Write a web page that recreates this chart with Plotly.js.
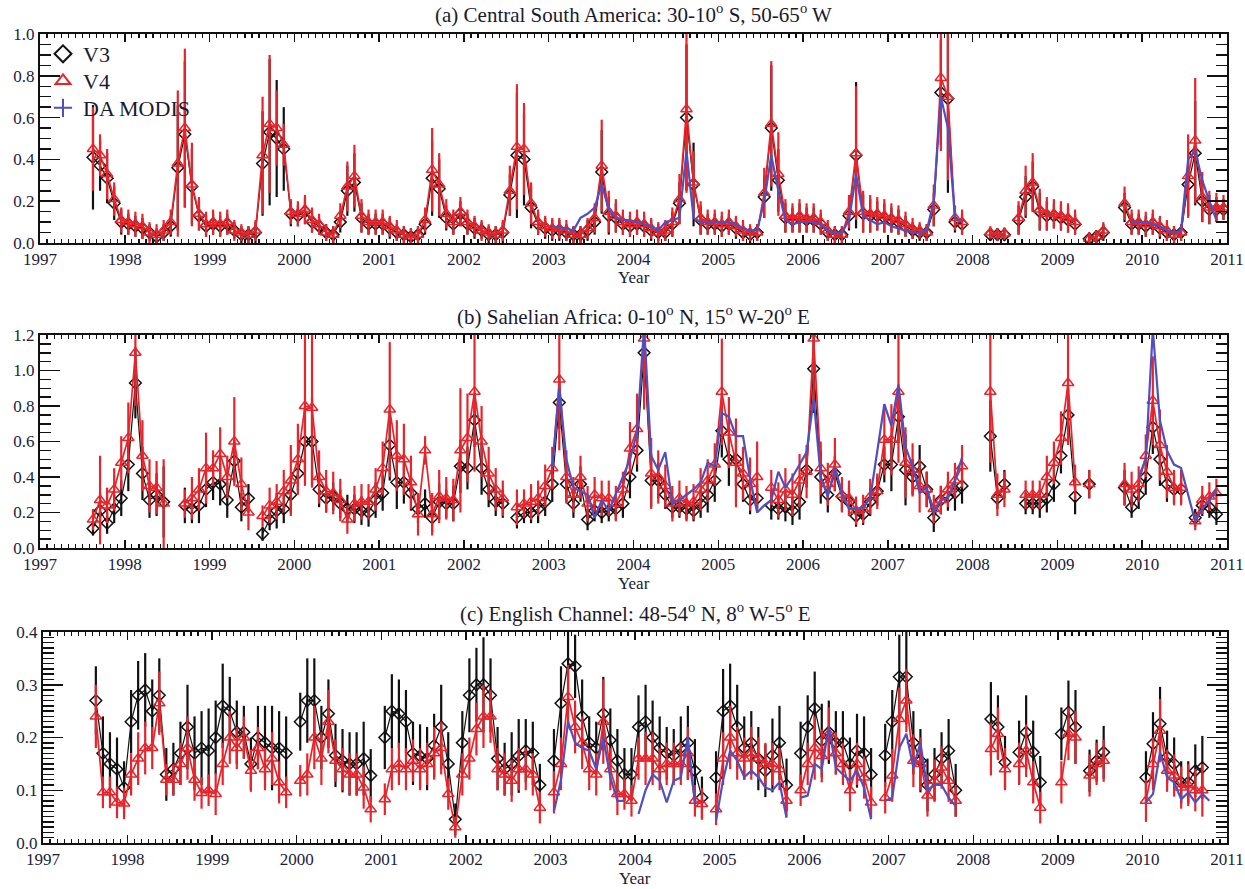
<!DOCTYPE html>
<html>
<head>
<meta charset="utf-8">
<script src="https://cdn.plot.ly/plotly-3.0.1.min.js"></script>
<style>
  html, body { margin: 0; padding: 0; background: #ffffff; }
  #chart { width: 1245px; height: 889px; }
</style>
</head>
<body>
<div id="chart"></div>
<script>
// ---------------- DATA (monthly, V3/V4 from Aug 1997 to Dec 2010; MODIS from Jan 2003) ----------------
const seriesStart = { year: 1997, month: 8 };
const modisStart = { year: 2003, month: 1 };
const yearTicks = [1997, 1998, 1999, 2000, 2001, 2002, 2003, 2004, 2005, 2006, 2007, 2008, 2009, 2010, 2011];

// (a) Central South America
const aV4 = [
  .45,.42,.33,.21,.11,
  .10,.09,.08,.05,.04,.06,.10,.38,.55,.28,.14,.09,
  .10,.09,.10,.06,.05,.04,.06,.42,.57,.55,.47,.15,
  .14,.16,.11,.09,.05,.04,.13,.27,.32,.13,.10,.10,
  .10,.08,.06,.04,.03,.04,.11,.35,.28,.14,.10,.15,
  .10,.08,.06,.05,.04,.06,.25,.46,.45,.19,.10,.08,
  .07,.07,.06,.04,.04,.07,.12,.37,.15,.13,.10,.09,
  .10,.09,.07,.05,.06,.10,.21,.64,.29,.12,.10,.10,
  .09,.10,.08,.06,.05,.05,.24,.57,.33,.13,.12,.13,
  .12,.12,.10,.06,.04,.04,.15,.43,.15,.14,.14,.13,
  .12,.11,.09,.07,.06,.05,.18,.79,.70,.12,.10,null,
  null,null,.05,.04,.045,null,.12,.25,.29,.16,.14,.14,
  .13,.12,.10,null,.02,.03,.06,null,null,.19,.10,.10,
  .09,.10,.08,.06,.04,.05,.32,.49,.22,.17,.17,.17
];
const aV4err = [
  .20,.10,.12,.08,.06,
  .06,.06,.06,.05,.05,.05,.06,.35,.38,.20,.08,.06,
  .06,.06,.06,.05,.04,.04,.05,.28,.33,.18,.10,.06,
  .06,.07,.06,.05,.04,.04,.06,.12,.15,.08,.06,.06,
  .06,.05,.05,.04,.04,.04,.06,.20,.15,.07,.06,.07,
  .06,.05,.05,.04,.04,.05,.12,.30,.22,.10,.06,.05,
  .05,.05,.05,.04,.04,.05,.07,.22,.10,.08,.06,.06,
  .06,.06,.05,.05,.05,.07,.12,.40,.15,.08,.06,.06,
  .06,.06,.05,.05,.04,.04,.12,.30,.20,.08,.07,.08,
  .07,.07,.06,.05,.04,.04,.08,.32,.10,.09,.08,.08,
  .07,.07,.06,.05,.04,.04,.10,.35,.40,.06,.06,null,
  null,null,.03,.03,.03,null,.08,.12,.14,.10,.08,.07,
  .07,.07,.06,null,.03,.03,.04,null,null,.08,.06,.06,
  .06,.06,.05,.05,.04,.04,.20,.30,.12,.08,.07,.06
];
const aV3 = [
  .41,.37,.31,.19,.10,
  .09,.08,.07,.05,.03,.05,.08,.36,.52,.27,.13,.08,
  .09,.08,.09,.06,.04,.04,.05,.38,.53,.50,.45,.14,
  .13,.15,.10,.08,.05,.04,.10,.25,.29,.12,.09,.09,
  .09,.07,.05,.04,.03,.04,.09,.31,.26,.12,.09,.14,
  .09,.07,.06,.04,.04,.05,.23,.42,.40,.17,.09,.07,
  .06,.06,.05,.04,.04,.06,.10,.34,.13,.12,.09,.08,
  .09,.08,.06,.05,.05,.09,.19,.60,.28,.11,.09,.09,
  .08,.09,.07,.05,.04,.05,.22,.55,.30,.12,.11,.12,
  .11,.11,.09,.05,.04,.04,.13,.42,.14,.13,.13,.12,
  .11,.10,.08,.06,.05,.05,.16,.72,.69,.10,.09,null,
  null,null,.04,.04,.04,null,.11,.22,.27,.15,.13,.13,
  .12,.11,.09,null,.02,.03,.05,null,null,.17,.09,.09,
  .08,.09,.07,.05,.04,.05,.28,.43,.20,.16,.16,.16
];
const aV3err = [
  .25,.12,.12,.08,.06,
  .05,.05,.05,.04,.04,.04,.05,.30,.35,.18,.07,.05,
  .05,.05,.05,.04,.04,.04,.05,.25,.35,.28,.20,.06,
  .05,.06,.05,.04,.04,.04,.05,.12,.14,.07,.05,.05,
  .05,.05,.04,.04,.04,.04,.05,.18,.14,.06,.05,.06,
  .05,.05,.04,.04,.04,.05,.10,.30,.22,.10,.05,.05,
  .05,.05,.04,.04,.04,.05,.06,.20,.09,.07,.05,.05,
  .05,.05,.05,.04,.04,.06,.10,.35,.20,.07,.05,.05,
  .05,.05,.05,.04,.04,.04,.10,.30,.15,.07,.06,.07,
  .06,.06,.05,.04,.04,.04,.07,.35,.09,.08,.07,.07,
  .06,.06,.05,.04,.04,.04,.08,.25,.45,.05,.05,null,
  null,null,.03,.03,.03,null,.07,.10,.12,.09,.07,.06,
  .06,.06,.05,null,.03,.03,.04,null,null,.07,.05,.05,
  .05,.05,.05,.04,.04,.04,.15,.25,.10,.07,.06,.05
];
const aMODIS = [
  .08,.075,.07,.06,.12,.14,.17,.28,.16,.12,.11,.11,
  .10,.09,.08,.06,.10,.11,.12,.44,.12,.10,.10,.10,
  .10,.10,.09,.07,.06,.06,.20,.42,.25,.11,.09,.10,
  .10,.10,.09,.06,.05,.05,.11,.33,.13,.11,.09,.10,
  .08,.07,.06,.05,.05,.06,.20,.70,.55,.12,.10,null,
  null,null,null,null,null,null,null,null,null,null,null,null,
  null,null,null,null,null,null,null,null,null,null,.10,.10,
  .10,.09,.08,.06,.05,.06,.40,.44,.30,.20,.11,null
];

// (b) Sahelian Africa
const bV4 = [
  .16,.27,.24,.33,.48,
  .62,1.10,.52,.35,.34,.25,null,null,.25,.28,.33,.45,
  .45,.53,.40,.60,.36,.20,null,.18,.24,.26,.32,.38,
  .50,.80,.79,.40,.32,.31,.27,.16,.25,.26,.26,.33,
  .45,.78,.52,.50,.37,.19,.55,.19,.29,.28,.27,.55,
  .62,.88,.60,.42,.33,.28,null,.23,.25,.26,.28,.35,
  .45,.95,.40,.30,.40,.25,.30,.28,.28,.25,.33,.56,
  .67,1.18,.42,.40,.35,.25,.28,.25,.26,.33,.38,.47,
  .88,.65,.48,.42,.36,.40,null,.34,.27,.33,.30,.38,
  .43,1.18,.45,.36,.47,.30,.28,.21,.22,.29,.32,.61,
  .61,.88,.48,.44,.35,.33,.22,.27,.33,.38,.46,null,
  null,null,.88,.30,.33,null,null,.30,.30,.30,.40,.48,
  .62,.93,.37,null,.36,null,null,null,null,.36,.33,.36,
  .52,.83,.58,.43,.34,.34,null,.15,.27,.29,.31,null
];
const bV4err = [
  .06,.25,.10,.12,.15,
  .20,.30,.20,.15,.15,.25,null,null,.08,.12,.12,.20,
  .10,.15,.12,.25,.15,.10,null,.06,.10,.10,.12,.20,
  .20,.45,.45,.15,.12,.12,.12,.08,.10,.10,.10,.12,
  .15,.38,.20,.20,.15,.12,.08,.12,.15,.12,.12,.35,
  .25,.45,.20,.15,.12,.10,null,.10,.08,.10,.10,.12,
  .12,.40,.15,.10,.12,.10,.10,.10,.10,.10,.10,.15,
  .20,.40,.20,.15,.12,.10,.10,.10,.10,.12,.12,.12,
  .30,.20,.25,.15,.15,.20,null,.10,.10,.12,.12,.15,
  .15,.35,.15,.12,.15,.10,.10,.08,.08,.10,.10,.20,
  .20,.40,.20,.15,.15,.10,.08,.08,.10,.10,.12,null,
  null,null,.40,.12,.10,null,null,.08,.08,.08,.12,.12,
  .15,.35,.10,null,.08,null,null,null,null,.12,.10,.10,
  .12,.25,.20,.15,.10,.10,null,.05,.08,.08,.08,null
];
const bV3 = [
  .11,.21,.14,.22,.28,
  .47,.93,.42,.27,.30,.26,null,null,.24,.22,.24,.33,
  .37,.36,.27,.49,.23,.28,null,.08,.16,.21,.22,.30,
  .42,.60,.60,.33,.28,.29,.25,.22,.22,.21,.20,.27,
  .31,.58,.37,.37,.31,.22,.25,.17,.26,.25,.25,.46,
  .45,.72,.45,.33,.26,.25,null,.17,.20,.20,.22,.26,
  .36,.82,.36,.25,.36,.16,.21,.20,.21,.22,.25,.40,
  .55,1.10,.38,.38,.30,.23,.23,.22,.21,.25,.30,.38,
  .66,.50,.50,.36,.27,.28,null,.24,.22,.23,.21,.26,
  .44,1.01,.40,.30,.42,.29,.26,.18,.19,.26,.32,.47,
  .47,.74,.44,.40,.46,.33,.17,.27,.29,.31,.35,null,
  null,null,.63,.28,.36,null,null,.25,.25,.25,.28,.36,
  .52,.75,.29,null,.36,null,null,null,null,.34,.23,.30,
  .40,.68,.50,.36,.33,.33,null,.17,.24,.23,.19,null
];
const bV3err = [
  .04,.10,.06,.08,.10,
  .15,.20,.15,.10,.12,.20,null,null,.10,.08,.10,.10,
  .10,.12,.10,.12,.08,.08,null,.04,.06,.10,.08,.10,
  .10,.20,.25,.10,.08,.08,.08,.08,.08,.08,.08,.10,
  .10,.20,.15,.12,.10,.08,.08,.08,.10,.08,.10,.15,
  .12,.15,.15,.10,.08,.08,null,.06,.06,.06,.08,.08,
  .10,.15,.10,.08,.10,.06,.06,.06,.06,.06,.08,.12,
  .12,.20,.15,.10,.08,.06,.06,.06,.06,.08,.10,.12,
  .15,.15,.15,.10,.08,.08,null,.08,.06,.08,.08,.10,
  .10,.25,.15,.10,.10,.08,.08,.06,.06,.08,.08,.10,
  .15,.15,.20,.10,.12,.10,.08,.08,.08,.10,.10,null,
  null,null,.20,.06,.08,null,null,.06,.06,.08,.08,.10,
  .10,.15,.10,null,.08,null,null,null,null,.10,.06,.08,
  .10,.15,.15,.10,.08,.08,null,.05,.06,.06,.06,null
];
const bMODIS = [
  .45,.90,.50,.34,.32,.30,.17,.27,.21,.30,.40,.50,
  .65,1.25,.52,.44,.54,.25,.27,.30,.33,.37,.48,.46,
  .76,.74,.63,.63,.39,.20,.24,.27,.43,.34,.40,.47,
  .54,.84,.40,.29,.45,.31,.22,.22,.23,.28,.55,.81,
  .69,.92,.57,.46,.31,.34,.20,.27,.28,.38,.51,null,
  null,null,null,null,null,null,null,null,null,null,null,null,
  null,null,null,null,null,null,null,null,null,null,null,.40,
  .50,1.23,.72,.55,.47,.45,.30,.15,.22,.27,.33,null
];

// (c) English Channel
const cV4 = [
  .24,.096,.096,.077,.075,
  .13,.16,.18,.18,.265,.12,.12,.15,.18,.12,.095,.10,
  .093,.15,.20,.18,.20,.137,.18,.14,.16,.115,.096,null,
  .118,.13,.20,.16,.23,.156,.14,.13,.13,.105,.064,null,
  .083,.14,.15,.14,.156,.14,.15,.17,.18,.093,.03,.13,
  .16,.216,.24,.24,.14,.13,.118,.14,.14,.13,.067,null,
  .096,.15,.277,.22,.19,.14,.13,.23,.14,.093,.093,.08,
  .16,.16,.16,.14,.15,.15,.15,.17,.08,.074,null,.064,
  .16,.20,.17,.16,.17,.16,.15,.15,.14,.08,null,.10,
  .15,.18,.165,.207,.17,.15,.10,.15,.124,.077,null,.086,
  .128,.235,.27,.156,.15,.09,.118,.143,.118,.08,null,null,
  null,null,.178,.207,.14,null,.15,.175,.115,.067,null,null,
  .115,.207,.20,null,.128,.15,.156,null,null,null,null,null,
  .08,.15,.213,.137,.128,.105,.11,.10,.10,null,null,null
];
const cV4err = [
  .06,.03,.03,.03,.03,
  .04,.05,.05,.04,.06,.03,.03,.04,.06,.04,.03,.03,
  .04,.04,.05,.04,.04,.04,.04,.04,.05,.04,.03,null,
  .03,.04,.06,.05,.06,.04,.04,.04,.04,.04,.025,null,
  .03,.04,.04,.04,.04,.04,.04,.05,.05,.03,.02,.04,
  .04,.05,.06,.05,.04,.04,.04,.04,.04,.04,.03,null,
  .04,.05,.06,.05,.05,.04,.04,.08,.04,.04,.03,.03,
  .04,.05,.05,.04,.04,.04,.04,.05,.03,.03,null,.03,
  .05,.06,.05,.04,.05,.04,.04,.04,.04,.03,null,.03,
  .04,.06,.05,.05,.04,.04,.04,.04,.04,.03,null,.03,
  .05,.06,.06,.05,.05,.04,.04,.04,.04,.03,null,null,
  null,null,.05,.05,.04,null,.04,.05,.04,.03,null,null,
  .04,.05,.05,null,.04,.04,.04,null,null,null,null,null,
  .04,.05,.06,.04,.04,.04,.04,.04,.05,null,null,null
];
const cV3 = [
  .27,.17,.15,.14,.105,
  .23,.28,.29,.25,.28,.13,.14,.17,.22,.17,.18,.175,
  .20,.26,.25,.21,.21,.15,.20,.19,.18,.18,.17,null,
  .23,.27,.27,.20,.245,.166,.156,.15,.15,.16,.128,null,
  .20,.25,.245,.23,.17,.165,.16,.185,.22,.15,.045,.19,
  .28,.30,.30,.28,.16,.14,.15,.165,.175,.17,.11,null,
  .156,.265,.34,.335,.24,.19,.18,.245,.195,.156,.13,.13,
  .22,.23,.20,.18,.17,.166,.18,.19,.137,.086,null,.124,
  .25,.26,.22,.18,.19,.16,.137,.166,.19,.11,null,.17,
  .22,.255,.194,.21,.19,.19,.15,.175,.17,.13,null,.166,
  .23,.315,.315,.19,.156,.11,.13,.16,.175,.10,null,null,
  null,null,.235,.22,.153,null,.172,.21,.172,.115,null,null,
  .207,.248,.22,null,.137,.156,.172,null,null,null,null,null,
  .124,.188,.226,.163,.15,.115,.115,.137,.143,null,null,null
];
const cV3err = [
  .065,.07,.06,.06,.05,
  .06,.065,.07,.06,.07,.05,.05,.06,.08,.07,.07,.08,
  .07,.08,.065,.06,.05,.05,.06,.07,.08,.07,.07,null,
  .055,.08,.08,.06,.065,.06,.06,.06,.06,.07,.05,null,
  .06,.07,.065,.06,.06,.06,.06,.06,.08,.06,.03,.06,
  .07,.07,.09,.07,.06,.05,.06,.07,.06,.06,.04,null,
  .06,.07,.08,.06,.07,.05,.05,.07,.06,.06,.05,.05,
  .06,.07,.07,.06,.05,.05,.06,.07,.06,.04,null,.05,
  .08,.08,.08,.06,.06,.06,.05,.07,.07,.05,null,.06,
  .06,.07,.07,.06,.06,.06,.05,.07,.07,.05,null,.06,
  .06,.08,.09,.06,.06,.05,.05,.05,.06,.05,null,null,
  null,null,.07,.06,.05,null,.06,.07,.06,.05,null,null,
  .05,.06,.07,null,.04,.04,.05,null,null,null,null,null,
  .05,.06,.07,.05,.05,.04,.04,.05,.06,null,null,null
];
const cMODIS = [
  .06,.12,.23,.19,.18,.175,.14,.20,.124,.08,.08,null,
  .055,.10,.13,.118,.077,.118,.124,.20,.075,null,null,.042,
  .12,.175,.156,.125,.137,.125,.105,.10,.115,.048,null,.086,
  .09,.15,.14,.22,.143,.13,.118,.137,.105,.045,null,.08,
  .086,.18,.207,.143,.19,.10,.11,.11,.086,.07,null,null,
  null,null,null,null,null,null,null,null,null,null,null,null,
  null,null,null,null,null,null,null,null,null,null,null,null,
  .077,.093,.172,.124,.115,.083,.096,.077,.093,.08,null,null
];

const panelTitles = [
  "(a) Central South America: 30-10<sup>o</sup> S, 50-65<sup>o</sup> W",
  "(b) Sahelian Africa: 0-10<sup>o</sup> N, 15<sup>o</sup> W-20<sup>o</sup> E",
  "(c) English Channel: 48-54<sup>o</sup> N, 8<sup>o</sup> W-5<sup>o</sup> E"
];
const seriesNames = ["V3", "V4", "DA MODIS"];

// ---------------- BUILD ----------------
function monthPositions(n, start) {
  const out = [];
  for (let i = 0; i < n; i++) out.push(start.year + (start.month - 1 + i + 0.5) / 12);
  return out;
}

const W = 1245, H = 889;
const RED = '#e8242b', BLACK = '#111111', BLUE = '#4f4fc0';
const FONT = 'Liberation Serif, Times New Roman, serif';

const panels = [
  { v3: aV3, v3e: aV3err, v4: aV4, v4e: aV4err, mod: aMODIS, px: [40, 1227], py: [34, 243], yr: [0, 1.0], dt: 0.2, mdt: 0.05 },
  { v3: bV3, v3e: bV3err, v4: bV4, v4e: bV4err, mod: bMODIS, px: [40, 1227], py: [335, 548], yr: [0, 1.2], dt: 0.2, mdt: 0.05 },
  { v3: cV3, v3e: cV3err, v4: cV4, v4e: cV4err, mod: cMODIS, px: [43, 1227], py: [632, 843], yr: [0, 0.4], dt: 0.1, mdt: 0.01 }
];

const traces = [];
const layout = {
  width: W, height: H,
  margin: { l: 0, r: 0, t: 0, b: 0 },
  paper_bgcolor: '#ffffff', plot_bgcolor: '#ffffff',
  showlegend: true,
  font: { family: FONT, color: '#1a1a2e' },
  annotations: []
};

panels.forEach((p, k) => {
  const n = k === 0 ? '' : String(k + 1);
  const xa = 'x' + n, ya = 'y' + n;
  const xs = monthPositions(p.v3.length, seriesStart);
  const xm = monthPositions(p.mod.length, modisStart);

  traces.push({
    x: xs, y: p.v3, xaxis: xa, yaxis: ya, type: 'scatter', mode: 'lines+markers',
    name: 'V3', showlegend: false, connectgaps: false, hoverinfo: 'skip',
    line: { color: BLACK, width: 1.2 },
    marker: { symbol: 'diamond-open', size: 9, color: BLACK, line: { width: 1.5, color: BLACK } },
    error_y: { type: 'data', array: p.v3e, visible: true, color: BLACK, thickness: 2.2, width: 0 }
  });
  traces.push({
    x: xs, y: p.v4, xaxis: xa, yaxis: ya, type: 'scatter', mode: 'lines+markers',
    name: 'V4', showlegend: false, connectgaps: false, hoverinfo: 'skip',
    line: { color: RED, width: 1.7 },
    marker: { symbol: 'triangle-up-open', size: 10, color: RED, line: { width: 1.5, color: RED } },
    error_y: { type: 'data', array: p.v4e, visible: true, color: RED, thickness: 2.2, width: 0 }
  });
  traces.push({
    x: xm, y: p.mod, xaxis: xa, yaxis: ya, type: 'scatter', mode: 'lines',
    name: 'DA MODIS', showlegend: false, connectgaps: false, hoverinfo: 'skip',
    line: { color: BLUE, width: 2.2 }
  });

  const xd = [p.px[0] / W, p.px[1] / W];
  const yd = [(H - p.py[1]) / H, (H - p.py[0]) / H];
  layout['xaxis' + n] = {
    domain: xd, anchor: ya, range: [1997, 2011],
    tickmode: 'array', tickvals: yearTicks, ticktext: yearTicks.map(String),
    ticklabeloverflow: 'allow',
    ticks: 'inside', ticklen: 8, tickwidth: 1.5, tickcolor: BLACK,
    minor: { dtick: 1 / 12, tick0: 1997, ticklen: 4, tickwidth: 1.2, tickcolor: BLACK, ticks: 'inside' },
    showline: true, linewidth: 2, linecolor: BLACK, mirror: 'allticks',
    showgrid: false, zeroline: false,
    tickfont: { family: FONT, size: 17, color: '#1c1c3a' }
  };
  layout['yaxis' + n] = {
    domain: yd, anchor: xa, range: p.yr, dtick: p.dt, tick0: 0,
    tickformat: '.1f',
    ticks: 'inside', ticklen: 20, tickwidth: 1.5, tickcolor: BLACK,
    minor: { dtick: p.mdt, ticklen: 11, tickwidth: 1.5, tickcolor: BLACK, ticks: 'inside' },
    showline: true, linewidth: 2, linecolor: BLACK, mirror: 'allticks',
    showgrid: false, zeroline: false,
    tickfont: { family: FONT, size: 17, color: '#1c1c3a' }
  };
  layout.annotations.push({
    text: panelTitles[k], xref: 'paper', yref: 'paper',
    x: (p.px[0] + p.px[1]) / 2 / W, y: 1 - (p.py[0] - 20) / H,
    xanchor: 'center', yanchor: 'middle', showarrow: false,
    font: { family: FONT, size: 21, color: '#1a1a2e' }
  });
  layout.annotations.push({
    text: 'Year', xref: 'paper', yref: 'paper',
    x: (p.px[0] + p.px[1]) / 2 / W, y: 1 - (p.py[1] + 35) / H,
    xanchor: 'center', yanchor: 'middle', showarrow: false,
    font: { family: FONT, size: 17, color: '#1a1a2e' }
  });
});

// legend-only entries (symbols only, as in the original key)
const legendDefs = [
  { name: seriesNames[0], symbol: 'diamond-open', color: BLACK, leg: 'legend', yc: 54 },
  { name: seriesNames[1], symbol: 'triangle-up-open', color: RED, leg: 'legend2', yc: 81 },
  { name: seriesNames[2], symbol: 'cross-thin-open', color: BLUE, leg: 'legend3', yc: 108 }
];
legendDefs.forEach(d => {
  traces.push({
    x: [null], y: [null], xaxis: 'x', yaxis: 'y', type: 'scatter', mode: 'markers',
    name: d.name, legend: d.leg, showlegend: true, hoverinfo: 'skip',
    marker: { symbol: d.symbol, size: 13, color: d.color, line: { width: 2, color: d.color } }
  });
  layout[d.leg] = {
    x: 43 / W, y: 1 - d.yc / H, xanchor: 'left', yanchor: 'middle',
    bgcolor: 'rgba(0,0,0,0)', borderwidth: 0,
    font: { family: FONT, size: 22, color: '#1a1a2e' },
    itemclick: false, itemdoubleclick: false
  };
});

Plotly.newPlot('chart', traces, layout, { staticPlot: true, displayModeBar: false });
</script>
</body>
</html>
